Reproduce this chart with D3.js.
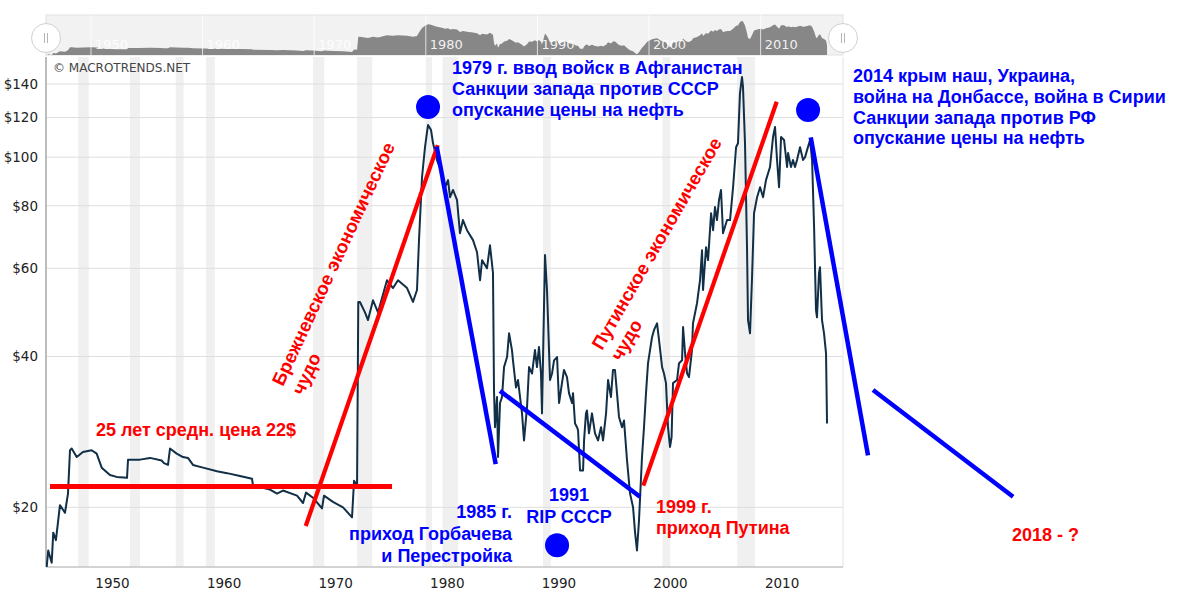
<!DOCTYPE html>
<html>
<head>
<meta charset="utf-8">
<script src="https://cdn.jsdelivr.net/npm/d3@7"></script>
<style>
  html, body { margin: 0; padding: 0; background: #fff; }
  svg { display: block; }
</style>
</head>
<body>
<div id="chart"></div>
<script>
// Нефть (с поправкой на инфляцию), $ за баррель: [год, цена]
const oilPrice = [
  [1946.03,15.2],[1946.17,16.4],[1946.48,15.5],[1946.62,17.8],[1946.86,17.2],[1947.22,20.2],[1947.67,19.5],
  [1947.94,21.3],[1948.12,26.0],[1948.27,26.2],[1948.72,25.2],[1949.28,25.8],[1950.06,26.0],[1950.51,25.6],
  [1950.96,24.0],[1951.70,23.2],[1952.30,23.0],[1953.23,22.9],[1953.32,24.9],[1954.39,24.9],[1955.29,25.1],
  [1956.33,24.8],[1956.54,24.5],[1956.90,24.3],[1957.08,26.2],[1957.68,25.6],[1958.24,25.2],[1958.69,25.1],
  [1959.14,24.3],[1960.04,24.0],[1961.29,23.6],[1962.19,23.4],[1963.35,23.1],[1964.43,22.8],[1964.52,22.1],
  [1966.04,21.7],[1966.67,21.3],[1967.20,21.6],[1968.46,21.1],[1969.00,20.4],[1969.27,21.4],[1969.89,20.9],
  [1970.70,19.9],[1970.88,21.1],[1971.68,20.5],[1972.58,20.0],[1973.39,19.1],[1973.57,22.6],[1973.84,22.1],
  [1973.95,51.4],[1974.10,51.4],[1974.55,49.0],[1974.82,47.3],[1975.27,51.8],[1975.72,49.0],[1976.52,56.8],
  [1977.06,54.8],[1977.51,56.8],[1978.32,54.8],[1978.85,51.4],[1979.21,54.3],[1979.39,68.3],[1979.66,91.2],
  [1979.93,104.7],[1980.11,112.3],[1980.20,115.9],[1980.47,113.3],[1980.65,106.6],[1981.00,98.7],[1981.45,92.9],
  [1981.72,87.1],[1981.99,90.0],[1982.17,83.2],[1982.44,86.0],[1982.80,82.1],[1983.06,70.5],[1983.33,74.9],
  [1983.69,71.5],[1984.23,68.3],[1984.59,64.6],[1984.86,56.8],[1985.04,62.3],[1985.48,60.0],[1985.75,66.7],
  [1986.02,58.7],[1986.11,34.3],[1986.20,28.9],[1986.38,33.2],[1986.47,25.2],[1986.65,32.3],[1986.83,33.2],
  [1987.01,38.1],[1987.28,39.9],[1987.46,44.5],[1987.72,41.2],[1987.81,39.3],[1988.08,34.7],[1988.26,35.9],
  [1988.62,30.8],[1988.80,27.2],[1989.07,31.7],[1989.25,38.1],[1989.52,37.0],[1989.78,41.2],[1989.96,38.1],
  [1990.14,41.8],[1990.32,37.0],[1990.41,30.8],[1990.59,50.2],[1990.68,63.8],[1990.86,54.3],[1991.13,35.9],
  [1991.31,37.0],[1991.49,39.3],[1991.76,39.9],[1991.94,32.3],[1992.20,35.4],[1992.38,37.6],[1992.65,36.4],
  [1992.83,33.8],[1993.10,32.3],[1993.19,33.8],[1993.37,29.4],[1993.55,28.9],[1993.64,28.5],[1993.82,23.7],
  [1994.09,23.7],[1994.18,27.2],[1994.35,30.8],[1994.44,31.2],[1994.62,28.1],[1994.89,30.8],[1995.16,28.1],
  [1995.43,27.2],[1995.70,28.9],[1995.88,27.2],[1996.15,30.8],[1996.33,35.9],[1996.59,33.2],[1996.77,37.6],
  [1996.95,37.6],[1997.13,33.8],[1997.31,30.3],[1997.58,28.9],[1997.76,29.8],[1998.03,24.8],[1998.30,21.3],
  [1998.57,20.0],[1998.75,17.8],[1998.92,16.4],[1999.10,18.8],[1999.19,20.7],[1999.37,25.2],[1999.55,28.9],
  [1999.73,33.8],[1999.91,38.8],[2000.09,41.2],[2000.27,43.7],[2000.45,45.2],[2000.72,46.6],[2000.90,43.1],
  [2001.17,38.1],[2001.34,37.0],[2001.52,35.4],[2001.70,28.9],[2001.88,26.4],[2002.02,27.6],[2002.15,35.4],
  [2002.51,35.9],[2002.69,38.8],[2002.96,39.3],[2003.05,45.8],[2003.23,40.6],[2003.41,37.0],[2003.58,36.4],
  [2003.85,41.2],[2003.94,46.6],[2004.30,51.1],[2004.57,56.8],[2004.75,65.2],[2004.84,54.3],[2005.11,66.1],
  [2005.29,62.3],[2005.56,77.3],[2005.74,71.5],[2005.91,79.5],[2006.09,74.9],[2006.27,82.1],[2006.45,86.0],
  [2006.63,70.5],[2006.99,74.9],[2007.26,74.9],[2007.53,87.1],[2007.80,104.7],[2007.97,106.6],[2008.15,134.3],
  [2008.33,144.5],[2008.42,138.1],[2008.60,106.6],[2008.78,66.1],[2008.87,47.3],[2009.05,44.5],[2009.23,57.6],
  [2009.41,77.3],[2009.68,83.2],[2009.95,87.1],[2010.22,83.2],[2010.48,90.0],[2010.84,95.6],[2011.11,109.7],
  [2011.29,114.9],[2011.47,98.7],[2011.65,87.1],[2011.83,109.7],[2012.10,108.2],[2012.37,95.6],[2012.46,101.9],
  [2012.72,95.6],[2012.90,98.7],[2013.08,95.6],[2013.26,98.7],[2013.53,104.7],[2013.80,98.7],[2013.98,100.0],
  [2014.16,103.3],[2014.43,108.2],[2014.61,98.7],[2014.79,72.5],[2014.96,49.5],[2015.05,47.9],[2015.23,58.7],
  [2015.32,60.3],[2015.50,47.3],[2015.68,44.5],[2015.86,40.6],[2015.95,29.4]
];

// рецессии США (серые полосы)
const recessions = [
  [1948.85,1949.8],[1953.5,1954.4],[1957.6,1958.3],[1960.3,1961.1],[1969.9,1970.9],[1973.85,1975.2],
  [1980.0,1980.55],[1981.5,1982.9],[1990.5,1991.2],[2001.2,2001.9],[2007.9,2009.5]
];

const yTicks = [20, 40, 60, 80, 100, 120, 140];
const xTicks = [1950, 1960, 1970, 1980, 1990, 2000, 2010];

// пометки поверх графика: [[год, цена], [год, цена]]
const redLines = [
  [[1946.33,22.0],[1976.97,22.0]],
  [[1969.24,18.35],[1981.07,105.7]],
  [[1999.49,22.1],[2011.44,129.0]]
];
const blueLines = [
  [[1980.98,105.0],[1986.26,24.4]],
  [[1986.65,34.15],[1999.19,21.0]],
  [[2014.49,109.5],[2019.62,25.4]],
  [[2020.07,34.3],[2032.62,21.0]]
];
const blueDots = [[1980.2,125.9],[1991.76,16.8],[2014.25,124.2]];

const noteAfghan = ["1979 г. ввод войск в Афганистан", "Санкции запада против СССР", "опускание цены на нефть"];
const noteCrimea = ["2014 крым наш, Украина,", "война на Донбассе, война в Сирии", "Санкции запада против РФ", "опускание цены на нефть"];
const noteGorbachev = ["1985 г.", "приход Горбачева", "и Перестройка"];
const noteUssr = ["1991", "RIP СССР"];
const notePutin = ["1999 г.", "приход Путина"];
const noteAverage = ["25 лет средн. цена 22$"];
const noteFuture = ["2018 - ?"];
const noteBrezhnevMiracle = ["Брежневское экономическое", "чудо"];
const notePutinMiracle = ["Путинское экономическое", "чудо"];

const W = 1201, H = 606;
const plot = { left: 46, right: 843, top: 57, bottom: 567 };
const RED = "#ff0000", BLUE = "#0000ff";
const NOTE_FONT = "'Liberation Sans', Arial, Helvetica, sans-serif";
const AXIS_FONT = "'DejaVu Sans', Verdana, sans-serif";

const x = d3.scaleLinear().domain([1945.97, 2017.38]).range([plot.left, plot.right]);
const y = d3.scaleLog().domain([15.2, 158.5]).range([plot.bottom, plot.top]);
const navY = d3.scaleLog().domain([15.2, 158.5]).range([55.5, 19.5]);

const svg = d3.select("#chart").append("svg")
  .attr("width", W).attr("height", H)
  .attr("viewBox", `0 0 ${W} ${H}`);

svg.append("defs").append("clipPath").attr("id", "plot-clip")
  .append("rect")
  .attr("x", plot.left).attr("y", plot.top)
  .attr("width", plot.right - plot.left).attr("height", plot.bottom - plot.top);

// полосы рецессий
svg.append("g")
  .selectAll("rect")
  .data(recessions)
  .join("rect")
  .attr("x", d => x(d[0]))
  .attr("width", d => x(d[1]) - x(d[0]))
  .attr("y", plot.top)
  .attr("height", plot.bottom - plot.top)
  .attr("fill", "#f0f0f0");

// горизонтальная сетка
svg.append("g")
  .selectAll("line")
  .data(yTicks)
  .join("line")
  .attr("x1", plot.left).attr("x2", plot.right)
  .attr("y1", d => y(d)).attr("y2", d => y(d))
  .attr("stroke", "#dedede")
  .attr("stroke-width", 1);

// рамка
svg.append("line")
  .attr("x1", plot.right).attr("x2", plot.right)
  .attr("y1", plot.top).attr("y2", plot.bottom)
  .attr("stroke", "#e3e3e3");
svg.append("line")
  .attr("x1", plot.left).attr("x2", plot.right)
  .attr("y1", plot.bottom).attr("y2", plot.bottom)
  .attr("stroke", "#c4c4c4").attr("stroke-width", 1.5);
svg.append("line")
  .attr("x1", plot.left).attr("x2", plot.left)
  .attr("y1", plot.top).attr("y2", plot.bottom)
  .attr("stroke", "#bdbdbd").attr("stroke-width", 2);

// линия цены
const line = d3.line().x(d => x(d[0])).y(d => y(d[1]));
svg.append("path")
  .datum(oilPrice)
  .attr("clip-path", "url(#plot-clip)")
  .attr("d", line)
  .attr("fill", "none")
  .attr("stroke", "#112f47")
  .attr("stroke-width", 2)
  .attr("stroke-linejoin", "round");

// оси
const yAxis = svg.append("g")
  .attr("transform", `translate(${plot.left},0)`)
  .call(d3.axisLeft(y).tickValues(yTicks).tickFormat(d => "$" + d).tickSize(0).tickPadding(8));
yAxis.select(".domain").remove();
yAxis.selectAll("text")
  .attr("font-family", AXIS_FONT).attr("font-size", 13.5).attr("fill", "#222");

const xAxis = svg.append("g")
  .attr("transform", `translate(0,${plot.bottom})`)
  .call(d3.axisBottom(x).tickValues(xTicks).tickFormat(d3.format("d")).tickSize(0).tickPadding(11));
xAxis.select(".domain").remove();
xAxis.selectAll("text")
  .attr("dx", 21)
  .attr("font-family", AXIS_FONT).attr("font-size", 13.5).attr("fill", "#222");

svg.append("text")
  .attr("x", 53).attr("y", 72)
  .attr("font-family", AXIS_FONT).attr("font-size", 12)
  .attr("fill", "#444")
  .text("© MACROTRENDS.NET");

// навигатор
const nav = svg.append("g");
nav.append("rect")
  .attr("x", plot.left).attr("y", 15)
  .attr("width", plot.right - plot.left).attr("height", 40)
  .attr("fill", "#f2f2f2").attr("stroke", "#e2e2e2");
nav.append("path")
  .datum(oilPrice)
  .attr("d", d3.area().x(d => x(d[0])).y0(55).y1(d => navY(d[1])))
  .attr("fill", "#878787");
nav.selectAll(".navgrid")
  .data(xTicks)
  .join("line")
  .attr("class", "navgrid")
  .attr("x1", d => x(d)).attr("x2", d => x(d))
  .attr("y1", 15).attr("y2", 55)
  .attr("stroke", "#ffffff").attr("stroke-opacity", 0.75);
nav.selectAll(".navlabel")
  .data(xTicks)
  .join("text")
  .attr("class", "navlabel")
  .attr("x", d => x(d) + 4).attr("y", 49)
  .attr("font-family", AXIS_FONT).attr("font-size", 13)
  .attr("fill", "#ffffff").attr("fill-opacity", 0.9)
  .text(d => d);

const handles = nav.selectAll(".handle")
  .data([plot.left, plot.right])
  .join("g")
  .attr("class", "handle")
  .attr("transform", d => `translate(${d},38)`);
handles.append("circle")
  .attr("r", 14.5)
  .attr("fill", "#fff")
  .attr("stroke", "#d0d0d0")
  .attr("stroke-width", 1);
handles.selectAll("line")
  .data([-1.5, 1.5])
  .join("line")
  .attr("x1", d => d).attr("x2", d => d)
  .attr("y1", -5).attr("y2", 5)
  .attr("stroke", "#b5b5b5").attr("stroke-width", 1);

// пометки: линии тренда
const segment = d3.line().x(d => x(d[0])).y(d => y(d[1]));
svg.append("g")
  .selectAll("path")
  .data(redLines)
  .join("path")
  .attr("d", segment)
  .attr("stroke", RED)
  .attr("stroke-width", (d, i) => i === 0 ? 5 : 4.2)
  .attr("fill", "none");
svg.append("g")
  .selectAll("path")
  .data(blueLines)
  .join("path")
  .attr("d", segment)
  .attr("stroke", BLUE)
  .attr("stroke-width", 4.5)
  .attr("fill", "none");
svg.append("g")
  .selectAll("circle")
  .data(blueDots)
  .join("circle")
  .attr("cx", d => x(d[0])).attr("cy", d => y(d[1]))
  .attr("r", 12)
  .attr("fill", BLUE);

// пометки: текст
function note(lines, px, py, color, anchor, lineH = 21, rotate = 0, size = 18) {
  const g = svg.append("g")
    .attr("transform", `translate(${px},${py}) rotate(${rotate})`);
  g.selectAll("text")
    .data(lines)
    .join("text")
    .attr("x", 0)
    .attr("y", (d, i) => i * lineH)
    .attr("text-anchor", anchor)
    .attr("font-family", NOTE_FONT)
    .attr("font-weight", "bold")
    .attr("font-size", size)
    .attr("fill", color)
    .text(d => d);
}

note(noteAfghan, 452, 74, BLUE, "start");
note(noteCrimea, 853, 82, BLUE, "start", 20.8);
note(noteGorbachev, 512, 518, BLUE, "end", 22);
note(noteUssr, 569, 501, BLUE, "middle", 22);
note(notePutin, 656, 513, RED, "start", 21);
note(noteAverage, 96, 436, RED, "start");
note(noteFuture, 1012, 541, RED, "start");
note(noteBrezhnevMiracle, 283, 387, RED, "start", 22, -65, 18.5);
note(notePutinMiracle, 602, 351, RED, "start", 22, -60, 18.5);
</script>
</body>
</html>
